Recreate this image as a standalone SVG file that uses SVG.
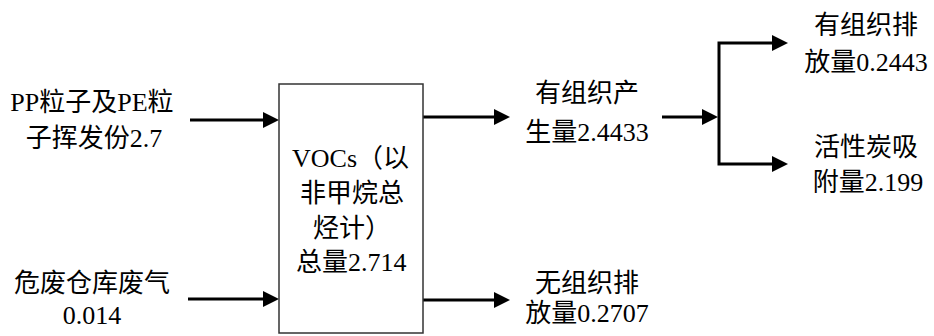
<svg xmlns="http://www.w3.org/2000/svg" width="934" height="336" viewBox="0 0 934 336">
<style>
text{font-family:"Liberation Serif","Noto Sans CJK SC",serif;font-size:26px;fill:#000}
.c{text-anchor:middle}
.ln{fill:none;stroke:#000;stroke-width:3;marker-end:url(#ah)}
.box{fill:#fff;stroke:#333;stroke-width:1.5}
</style>
<defs>
<marker id="ah" viewBox="0 0 16 16" refX="10" refY="8" markerWidth="16" markerHeight="16" markerUnits="userSpaceOnUse" orient="auto">
<path d="M0,0 L16,8 L0,16 z" fill="#000"/>
</marker>
</defs>
<g id="connectors">
<path class="ln" d="M190,120 H273"/>
<path class="ln" d="M188,299 H273"/>
<path class="ln" d="M423,117 H504"/>
<path class="ln" d="M423,300 H504"/>
<path class="ln" d="M662,117 H712"/>
<path class="ln" d="M719,117 V43 H782"/>
<path class="ln" d="M719,117 V164 H782"/>
</g>
<g id="src1">
<text class="c" x="92" y="111">PP粒子及PE粒</text>
<text class="c" x="94" y="147">子挥发份2.7</text>
</g>
<g id="src2">
<text class="c" x="92" y="292">危废仓库废气</text>
<text class="c" x="92" y="324">0.014</text>
</g>
<g id="voc">
<rect class="box" x="279" y="84" width="144" height="249"/>
<text x="292" y="167">VOCs（以</text>
<text x="300" y="202">非甲烷总</text>
<text x="313" y="237">烃计）</text>
<text x="296" y="271">总量2.714</text>
</g>
<g id="organized">
<text class="c" x="587" y="102">有组织产</text>
<text class="c" x="587" y="141">生量2.4433</text>
</g>
<g id="fugitive">
<text class="c" x="587" y="292">无组织排</text>
<text class="c" x="587" y="322">放量0.2707</text>
</g>
<g id="emission">
<text class="c" x="866" y="34">有组织排</text>
<text class="c" x="866" y="71">放量0.2443</text>
</g>
<g id="adsorb">
<text class="c" x="866" y="156">活性炭吸</text>
<text class="c" x="868" y="191">附量2.199</text>
</g>
</svg>
